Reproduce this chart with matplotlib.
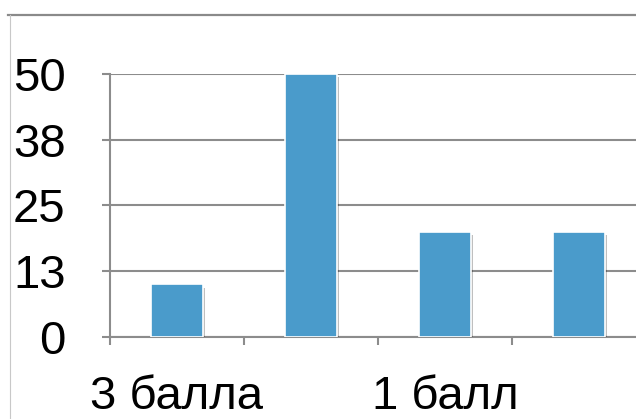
import matplotlib.pyplot as plt
import matplotlib.patheffects as pe
from matplotlib.lines import Line2D

categories = ["3 балла", "2 балла", "1 балл", "0 баллов"]
values = [10, 50, 20, 20]
y_ticks = [0, 12.5, 25, 37.5, 50]
y_labels = ["0", "13", "25", "38", "50"]

plt.rcParams['font.family'] = ['Liberation Sans', 'DejaVu Sans']

fig = plt.figure(figsize=(6.36, 4.19), dpi=100)
W, H = 636, 419
ax = fig.add_axes([110 / W, (H - 337) / H, 536 / W, 263 / H])

grey = "#8c8c8c"
bars = ax.bar(range(len(values)), values, width=0.39, color="#4a9bcb",
              edgecolor="white", linewidth=1.2, zorder=3)
for b in bars:
    b.set_path_effects([pe.SimplePatchShadow(offset=(1.5, -2.5), shadow_rgbFace="black", alpha=0.25),
                        pe.Normal()])

ax.set_xlim(-0.5, len(values) - 0.5)
ax.set_ylim(0, 50)
ax.set_yticks(y_ticks)
ax.set_yticklabels(y_labels)
ax.yaxis.grid(True, color=grey, linewidth=1.5, zorder=0)
ax.set_axisbelow(True)

# category boundaries carry tick marks, centres carry labels
ax.set_xticks([i - 0.5 for i in range(len(values))])
ax.set_xticklabels([])
ax.set_xticks(range(len(values)), minor=True)
ax.set_xticklabels([c if i % 2 == 0 else "" for i, c in enumerate(categories)], minor=True)
ax.tick_params(axis="x", which="major", length=6, width=1.5, color=grey, direction="out")
ax.tick_params(axis="x", which="minor", length=0, pad=27, labelsize=34)
ax.tick_params(axis="y", length=6, width=1.5, color=grey, pad=26, labelsize=34)

for s in ["top", "right"]:
    ax.spines[s].set_visible(False)
for s in ["left", "bottom"]:
    ax.spines[s].set_color(grey)
    ax.spines[s].set_linewidth(1.5)

# outer frame lines
fig.add_artist(Line2D([8 / W, 1], [1 - 15 / H, 1 - 15 / H], color="#8a8a8a", linewidth=1.6))
fig.add_artist(Line2D([10 / W, 10 / W], [0, 1 - 15 / H], color="#c8c8c8", linewidth=0.8))

fig.savefig("out.png", dpi=100)
